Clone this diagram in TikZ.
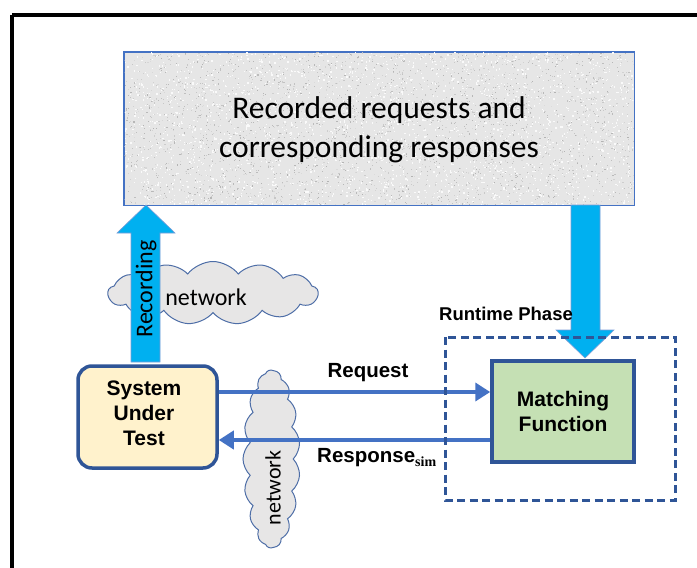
\documentclass[tikz,border=0pt]{standalone}
\usepackage{fontspec}
\setmainfont{Liberation Sans}
\newfontfamily\calib{Carlito}
\newfontfamily\serifsub{Liberation Serif}
\usetikzlibrary{shapes.symbols,arrows.meta,calc}

\definecolor{boxblue}{HTML}{2F5597}
\definecolor{linkblue}{HTML}{4472C4}
\definecolor{flowcyan}{HTML}{00B0F0}
\definecolor{cloudgray}{HTML}{E7E6E6}
\definecolor{sutfill}{HTML}{FFF2CC}
\definecolor{mffill}{HTML}{C5E0B4}
\definecolor{stonegray}{HTML}{E6E6E6}

\tikzset{
  bigflow/.style={fill=flowcyan, draw=linkblue!70, line width=0.6pt},
  netcloud/.style={cloud, cloud puffs=13, cloud puff arc=105, cloud ignores aspect,
    fill=cloudgray, draw=boxblue!85, line width=1pt, inner sep=0pt},
  compbox/.style={draw=boxblue, line width=3.5pt, align=center, inner sep=0pt,
    font=\bfseries\fontsize{21}{25}\selectfont},
  msg/.style={draw=linkblue, line width=4pt,
    -{Triangle[length=15pt,width=18pt]}},
  msglabel/.style={font=\bfseries\fontsize{20.5}{24}\selectfont, inner sep=0pt}
}

\begin{document}
\begin{tikzpicture}[x=1pt,y=-1pt]
\useasboundingbox (0,0) rectangle (697,568);

% outer frame (only top and left edge fall inside the page)
\draw[line width=4pt] (12,15) -- (710,15);
\draw[line width=4pt] (12,15) -- (12,580);

% store of recorded traffic, stone texture
\node[draw=linkblue, line width=1pt, fill=stonegray, minimum width=510pt,
      minimum height=153pt, inner sep=0pt] (store) at (379,128.5) {};
\begin{scope}
  \clip (124.5,52.5) rectangle (633.5,204.5);
  \pgfmathsetseed{7}
  \foreach \i in {1,...,2600}{
    \pgfmathsetmacro\px{124+510*rnd}
    \pgfmathsetmacro\py{52+153*rnd}
    \pgfmathsetmacro\sh{14+16*rnd}
    \fill[black!\sh] (\px,\py) rectangle ++(1.1,1.1);
  }
  \foreach \i in {1,...,2200}{
    \pgfmathsetmacro\px{124+510*rnd}
    \pgfmathsetmacro\py{52+153*rnd}
    \fill[white!80!stonegray] (\px,\py) rectangle ++(1.3,1.3);
  }
\end{scope}
\draw[linkblue, line width=1pt] (store.north west) rectangle (store.south east);
\node[font=\calib\fontsize{31.5}{39}\selectfont, align=center] (storetext)
  at (379,130) {Recorded requests and\\corresponding responses};

% networks
\node[netcloud, minimum width=210pt, minimum height=63pt] (net1) at (213,293) {};
\node[font=\calib\fontsize{24}{28}\selectfont] (net1text) at (206,297) {network};
\node[netcloud, cloud puffs=17, cloud puff arc=95, minimum width=178pt,
      minimum height=57pt, rotate=90] (net2) at (271.5,459) {};
\node[font=\calib\fontsize{22}{26}\selectfont, rotate=90] (net2text) at (273,488) {network};

% components
\node[compbox, fill=sutfill, rounded corners=14pt, minimum width=139pt,
      minimum height=102pt] (sut) at (147.5,417) {};
\node[font=\bfseries\fontsize{21}{25}\selectfont, align=center] (suttext)
  at (144,413) {System\\Under\\Test};
\node[compbox, fill=mffill, minimum width=142pt, minimum height=101pt]
  (mf) at (563,411.5) {Matching\\Function};

% recording flow: system under test -> store
\draw[bigflow] (131,362) -- (131,233) -- (117,233) -- (146,205) -- (175,233)
  -- (160,233) -- (160,362) -- cycle;
\node[rotate=90, font=\calib\fontsize{24}{28}\selectfont] (rectext) at (146,289) {Recording};

% replay flow: store -> matching function
\draw[bigflow] (571,205) -- (571,330) -- (556,330) -- (585,358) -- (614,330)
  -- (600,330) -- (600,205) -- cycle;

% messages
\draw[msg] ([yshift=25pt]sut.east) coordinate (rq) -- (rq -| mf.west);
\coordinate (rs) at ([yshift=-23pt]sut.east);
\draw[msg] (rs -| mf.west) -- (rs);
\node[msglabel] (reqlabel) at (368,373) {Request};
\node[msglabel, anchor=base west] (reslabel) at (317,462)
  {Response\raisebox{-4pt}{\serifsub\bfseries\fontsize{14}{16}\selectfont sim}};

% runtime phase
\draw[boxblue, line width=3pt, dash pattern=on 8pt off 4.5pt]
  (445,337) rectangle (675,500);
\node[font=\bfseries\fontsize{18.5}{22}\selectfont, anchor=west, inner sep=0pt]
  (phase) at (439,314) {Runtime Phase};
\end{tikzpicture}
\end{document}
